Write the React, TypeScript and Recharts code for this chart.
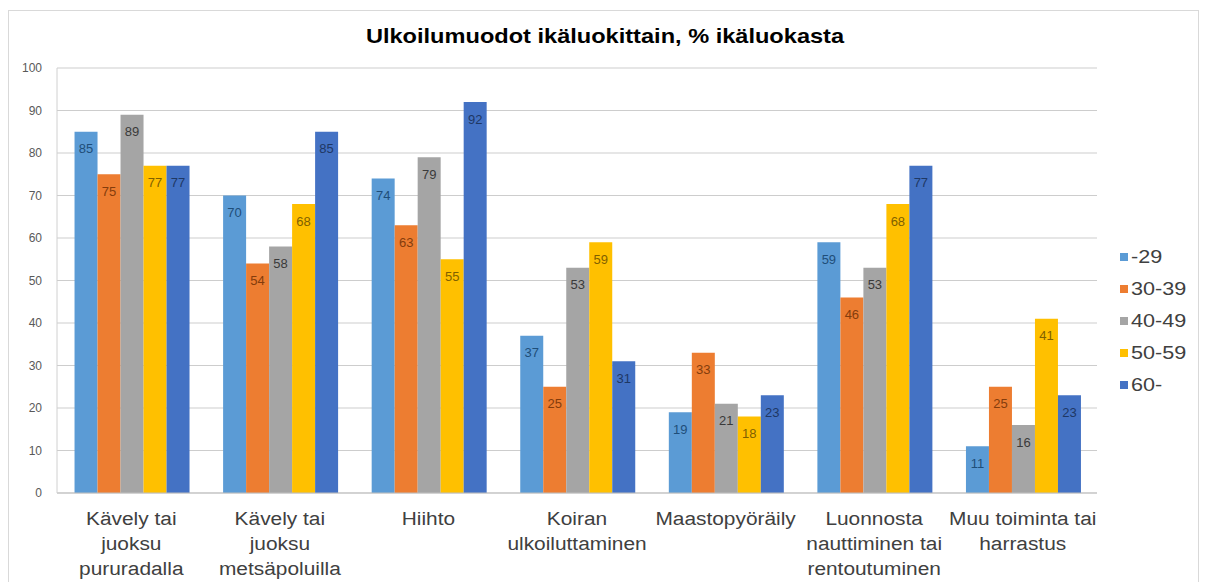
import React from 'react';
import { BarChart, Bar, XAxis, YAxis, CartesianGrid, Legend, LabelList } from 'recharts';

const categories = [
  'Kävely tai\njuoksu\npururadalla',
  'Kävely tai\njuoksu\nmetsäpoluilla',
  'Hiihto',
  'Koiran\nulkoiluttaminen',
  'Maastopyöräily',
  'Luonnosta\nnauttiminen tai\nrentoutuminen',
  'Muu toiminta tai\nharrastus',
];

const seriesNames = ['-29', '30-39', '40-49', '50-59', '60-'];
const age29 = [85, 70, 74, 37, 19, 59, 11];
const age30 = [75, 54, 63, 25, 33, 46, 25];
const age40 = [89, 58, 79, 53, 21, 53, 16];
const age50 = [77, 68, 55, 59, 18, 68, 41];
const age60 = [77, 85, 92, 31, 23, 77, 23];
const yTicks = [0, 10, 20, 30, 40, 50, 60, 70, 80, 90, 100];
const title = 'Ulkoilumuodot ikäluokittain, % ikäluokasta';

const seriesValues = [age29, age30, age40, age50, age60];
const barColors = ['#5B9BD5', '#ED7D31', '#A5A5A5', '#FFC000', '#4472C4'];
const labelColors = ['#1F4E79', '#843C0C', '#3A3A3A', '#7F6000', '#1F3864'];
const keys = ['s0', 's1', 's2', 's3', 's4'];

const data = categories.map((c, i) => {
  const row: Record<string, any> = { name: c };
  seriesValues.forEach((arr, s) => {
    row[keys[s]] = arr[i];
  });
  return row;
});

const FONT = '"Liberation Sans", Arial, sans-serif';

const CategoryTick = (props: any) => {
  const { x, y, payload } = props;
  const lines = String(payload.value).split('\n');
  return (
    <g transform={`translate(${x},${y})`}>
      <text
        textAnchor="middle"
        fill="#404040"
        fontSize={18}
        fontFamily={FONT}
        transform="scale(1.16,1)"
      >
        {lines.map((l, i) => (
          <tspan key={i} x={0} y={32 + i * 25}>
            {l}
          </tspan>
        ))}
      </text>
    </g>
  );
};

const makeLabel = (color: string) => (props: any) => {
  const { x, y, width, value } = props;
  return (
    <text
      x={Number(x) + Number(width) / 2}
      y={Number(y) + 17}
      textAnchor="middle"
      dominantBaseline="central"
      fill={color}
      fontSize={13}
      fontFamily={FONT}
    >
      {Math.round(Number(value))}
    </text>
  );
};

const LegendContent = () => (
  <svg width={100} height={170} style={{ overflow: 'visible', display: 'block' }}>
    {seriesNames.map((n, i) => (
      <g key={n}>
        <rect x={10} y={17 + i * 32 - 4} width={8} height={8} fill={barColors[i]} />
        <text
          x={0}
          y={17 + i * 32}
          dominantBaseline="central"
          fill="#404040"
          fontSize={18}
          fontFamily={FONT}
          transform={`translate(21,0) scale(1.2,1)`}
        >
          {n}
        </text>
      </g>
    ))}
  </svg>
);

export default function App() {
  return (
    <div style={{ position: 'relative', width: 1192, height: 574, background: '#fff' }}>
      <div
        style={{
          position: 'absolute',
          left: 0,
          top: 2,
          width: 1191,
          height: 620,
          border: '1px solid #D9D9D9',
          boxSizing: 'border-box',
        }}
      />
      <div
        style={{
          position: 'absolute',
          left: 596.5,
          top: 17,
          fontFamily: FONT,
          fontWeight: 'bold',
          fontSize: 20.5,
          lineHeight: '21px',
          whiteSpace: 'nowrap',
          color: '#000',
          transform: 'translateX(-50%) scaleX(1.15)',
        }}
      >
        {title}
      </div>
      <div style={{ position: 'absolute', left: 0, top: 0 }}>
        <BarChart
          width={1192}
          height={574}
          data={data}
          margin={{ top: 60, right: 102, bottom: 9, left: 0 }}
          barCategoryGap="11.8%"
          barGap={0}
        >
          <CartesianGrid vertical={false} stroke="#CDCDCD" />
          <XAxis
            dataKey="name"
            tick={<CategoryTick />}
            tickLine={false}
            tickSize={0}
            tickMargin={0}
            axisLine={{ stroke: '#BFBFBF' }}
            height={80}
            interval={0}
          />
          <YAxis
            domain={[0, 100]}
            ticks={yTicks}
            width={49}
            tickLine={false}
            tickSize={0}
            tickMargin={15}
            axisLine={{ stroke: '#D0D0D0' }}
            tick={{ fill: '#595959', fontSize: 12, fontFamily: FONT }}
            interval={0}
          />
          <Legend
            content={<LegendContent />}
            layout="vertical"
            align="right"
            verticalAlign="top"
            wrapperStyle={{ left: 1102, top: 232, width: 1, height: 1, overflow: 'visible' }}
          />
          {keys.map((k, i) => (
            <Bar
              key={k}
              dataKey={k}
              name={seriesNames[i]}
              fill={barColors[i]}
              isAnimationActive={false}
            >
              <LabelList dataKey={k} content={makeLabel(labelColors[i])} />
            </Bar>
          ))}
        </BarChart>
      </div>
    </div>
  );
}
